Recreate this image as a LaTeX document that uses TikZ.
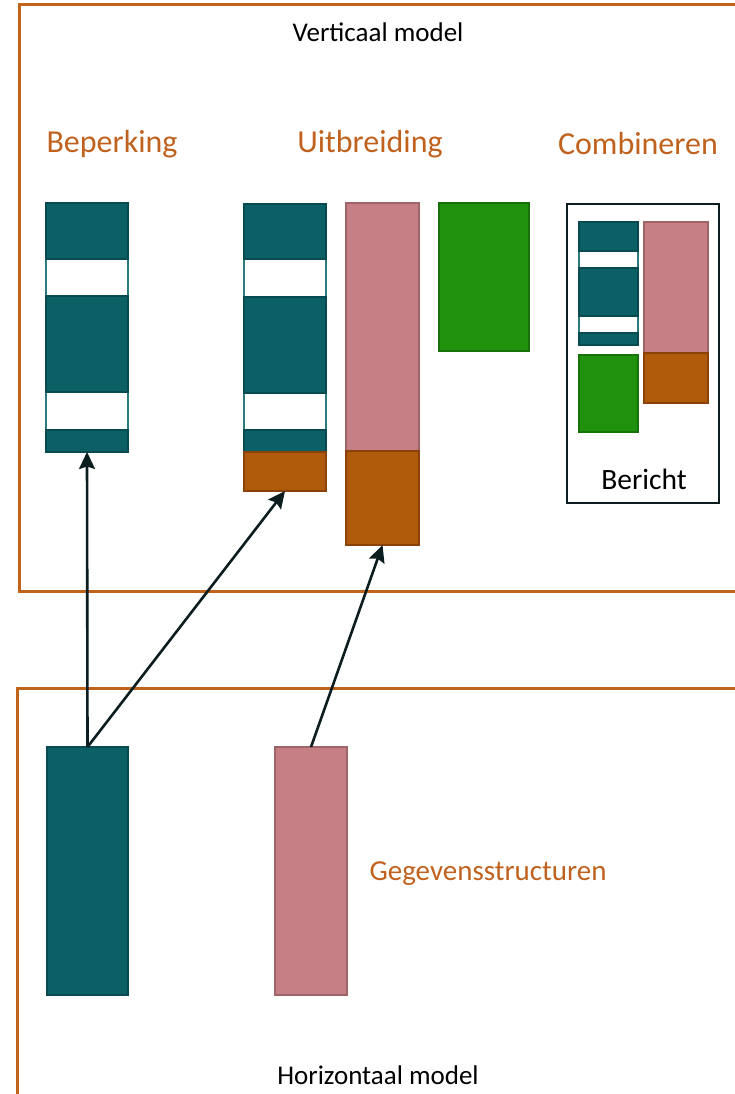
\documentclass[tikz,border=0pt]{standalone}
\usepackage{fontspec}
\setmainfont{Carlito}
\usetikzlibrary{arrows.meta}
\definecolor{tealfill}{HTML}{0B6066}
\definecolor{tealline}{HTML}{074A4F}
\definecolor{tealthin}{HTML}{2B7A80}
\definecolor{pinkfill}{HTML}{C67F84}
\definecolor{pinkline}{HTML}{9E6468}
\definecolor{orangefill}{HTML}{B05A0C}
\definecolor{orangeline}{HTML}{8A4208}
\definecolor{greenfill}{HTML}{1F910C}
\definecolor{greenline}{HTML}{18720A}
\definecolor{framecol}{HTML}{C0641C}
\definecolor{titlecol}{HTML}{C0621E}
\definecolor{arrowcol}{HTML}{0C1D20}
\tikzset{
  blockbase/.style={rectangle, inner sep=0pt, outer sep=0pt, anchor=north west, line width=2.2pt},
  tealbox/.style={blockbase, fill=tealfill, draw=tealline},
  gapbox/.style={blockbase, fill=white, draw=tealthin, line width=1.4pt},
  pinkbox/.style={blockbase, fill=pinkfill, draw=pinkline},
  orangebox/.style={blockbase, fill=orangefill, draw=orangeline},
  greenbox/.style={blockbase, fill=greenfill, draw=greenline},
  framebox/.style={blockbase, draw=arrowcol, line width=2.6pt},
  frameline/.style={draw=framecol, line width=3pt},
  heading/.style={font=\fontsize{27}{30}\selectfont, text=black, inner sep=0pt, anchor=base},
  category/.style={font=\fontsize{32}{36}\selectfont, text=titlecol, inner sep=0pt, anchor=base},
  link/.style={draw=arrowcol, line width=2.6pt, -{Stealth[length=17pt,width=16pt,inset=2.5pt]}},
}
% block: name, style, x1, y1, x2, y2 (y measured downwards)
\newcommand\blockat[6]{%
  \node[#2, minimum width={(#5-#3)*1pt}, minimum height={(#6-#4)*1pt}] (#1) at (#3,#4) {};}
\begin{document}
\begin{tikzpicture}[x=1pt,y=-1pt]
\useasboundingbox (0,0) rectangle (735,1094);

% outer frames of the two models
\draw[frameline] (737,5) -- (19,5) -- (19,591) -- (737,591);
\draw[frameline] (737,688) -- (17,688) -- (17,1096);

\node[heading] (vtitle) at (378,42) {Verticaal model};
\node[heading] (htitle) at (378,1084) {Horizontaal model};

\node[category] (tbep) at (112,153) {Beperking};
\node[category] (tuit) at (370,153) {Uitbreiding};
\node[category] (tcomb) at (638,155) {Combineren};
\node[category, font=\fontsize{29}{33}\selectfont] (tgeg) at (488,880) {Gegevensstructuren};

% Beperking column
\blockat{b2}{gapbox}{46}{259}{128}{296}
\blockat{b4}{gapbox}{46}{392}{128}{430}
\blockat{b1}{tealbox}{46}{203}{128}{259}
\blockat{b3}{tealbox}{46}{296}{128}{392}
\blockat{b5}{tealbox}{46}{430}{128}{452}

% Uitbreiding columns
\blockat{u2}{gapbox}{244}{259}{326}{297}
\blockat{u4}{gapbox}{244}{393}{326}{430}
\blockat{u1}{tealbox}{244}{204}{326}{259}
\blockat{u3}{tealbox}{244}{297}{326}{393}
\blockat{u5}{tealbox}{244}{430}{326}{452}
\blockat{u6}{orangebox}{244}{452}{326}{491}
\blockat{p1}{pinkbox}{346}{203}{419}{451}
\blockat{p2}{orangebox}{346}{451}{419}{545}
\blockat{g1}{greenbox}{439}{203}{529}{351}

% Combineren message
\blockat{cbox}{framebox}{567}{204}{719}{503}
\blockat{c2}{gapbox}{579}{251}{638}{268}
\blockat{c4}{gapbox}{579}{316}{638}{333}
\blockat{c1}{tealbox}{579}{222}{638}{251}
\blockat{c3}{tealbox}{579}{268}{638}{316}
\blockat{c5}{tealbox}{579}{333}{638}{345}
\blockat{cp1}{pinkbox}{644}{222}{708}{353}
\blockat{cp2}{orangebox}{644}{353}{708}{403}
\blockat{cg}{greenbox}{579}{355}{638}{432}
\node[heading, font=\fontsize{29.5}{33}\selectfont] (bericht) at (644,489) {Bericht};

% data structures of the horizontal model
\blockat{hteal}{tealbox}{47}{747}{128}{995}
\blockat{hpink}{pinkbox}{275}{747}{347}{995}

% derivations
\draw[link] (hteal.north) -- (b5.south);
\draw[link] (hteal.north) -- (u6.south);
\draw[link] (hpink.north) -- (p2.south);
\end{tikzpicture}
\end{document}
